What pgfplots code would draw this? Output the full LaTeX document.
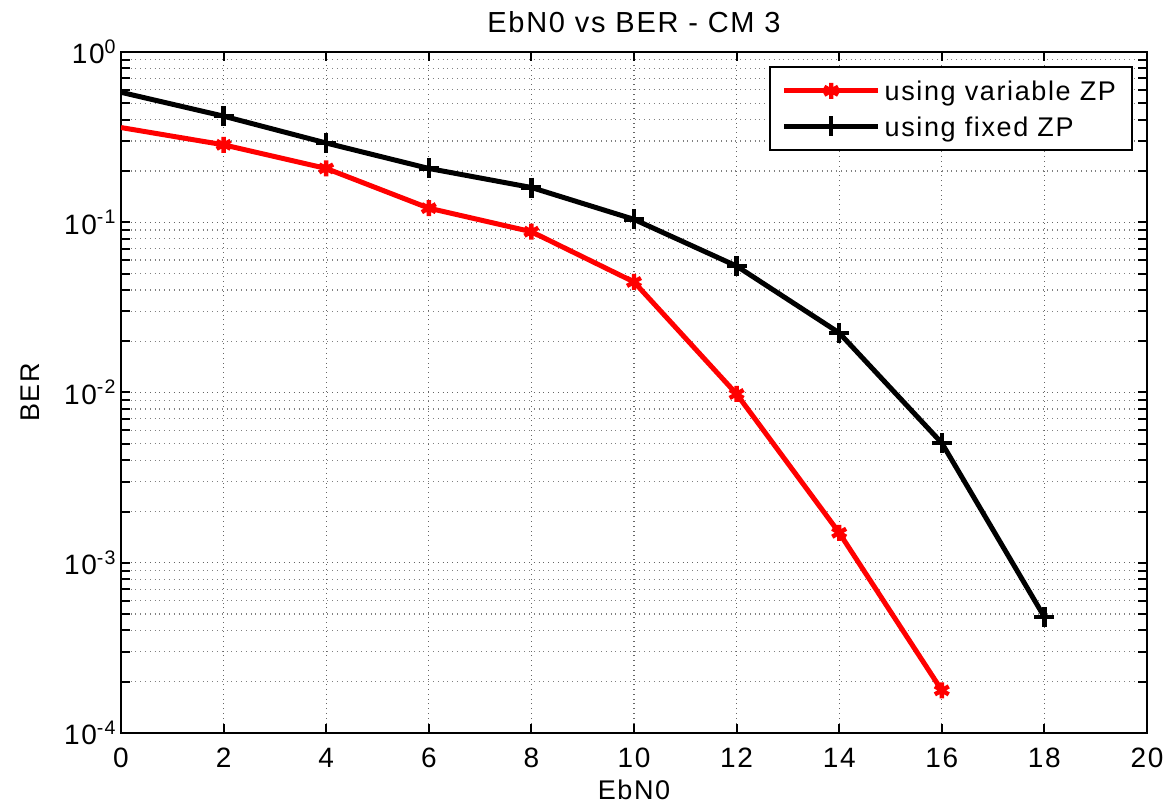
\documentclass[border=0pt]{standalone}
\usepackage{fontspec}
\setmainfont[LetterSpace=6]{Liberation Sans}
\usepackage{pgfplots}
\pgfplotsset{compat=1.18}

\begin{document}
\begin{tikzpicture}[font=\fontsize{13.5pt}{16pt}\selectfont]
\path[use as bounding box] (-60.5pt,-36.5pt) rectangle (526.5pt,366.5pt);
\begin{semilogyaxis}[
at={(0pt,0pt)},anchor=south west,
scale only axis,
width=513pt,height=340.5pt,
xmin=0,xmax=20,ymin=1e-4,ymax=1,
xtick={0,2,...,20},
ytick={1e-4,1e-3,1e-2,1e-1,1},
yticklabels={10\textsuperscript{-4},10\textsuperscript{-3},10\textsuperscript{-2},10\textsuperscript{-1},10\textsuperscript{0}},
minor ytick={2e-4,3e-4,4e-4,5e-4,6e-4,7e-4,8e-4,9e-4,
2e-3,3e-3,4e-3,5e-3,6e-3,7e-3,8e-3,9e-3,
2e-2,3e-2,4e-2,5e-2,6e-2,7e-2,8e-2,9e-2,
2e-1,3e-1,4e-1,5e-1,6e-1,7e-1,8e-1,9e-1},
/pgf/number format/assume math mode=true,
tick label style={font=\fontsize{14pt}{16pt}\selectfont},
yticklabel style={inner sep=2pt},
xticklabel style={yshift=-4pt},
tick align=inside,
major tick length=4.5pt,minor tick length=4.5pt,
tick style={black,line width=1pt},
axis line style={line width=1pt},
grid=both,
major grid style={black!60,dotted,line width=0.6pt},
minor grid style={gray,dotted,line width=0.6pt},
every axis title shift=0pt,
title={EbN0 vs BER - CM 3},
title style={at={(axis description cs:0.5,1.044)},anchor=center,
  font=\fontsize{14.5pt}{17pt}\selectfont},
xlabel={EbN0},
xlabel style={at={(axis description cs:0.5,-0.0837)},anchor=center,
  font=\fontsize{13.5pt}{16pt}\selectfont},
ylabel={BER},
ylabel style={at={(axis description cs:-0.0887,0.5)},anchor=center,
  font=\fontsize{13.5pt}{16pt}\selectfont},
legend style={at={(rel axis cs:1,1)},anchor=north east,xshift=-7pt,yshift=-7pt,
  draw=black,line width=1pt,fill=white,inner xsep=6pt,inner ysep=5pt,row sep=4pt,
  font=\fontsize{13.5pt}{16pt}\selectfont,
  nodes={inner sep=2pt,text depth=0pt}},
legend cell align=left,
legend image code/.code={\draw[#1,mark indices={2}] plot coordinates {(0pt,0pt) (23.5pt,0pt) (47pt,0pt)};},
]
\addplot[red,line width=2.5pt,mark=asterisk,mark size=4pt,mark indices={2,3,4,5,6,7,8,9},
  mark options={line width=2.2pt}] coordinates {
(0,0.36) (2,0.285) (4,0.207) (6,0.121) (8,0.088) (10,0.0446)
(12,0.0098) (14,0.0015) (16,0.000178)};
\addlegendentry{using variable ZP}
\addplot[black,line width=2.5pt,mark=+,mark size=5pt,mark indices={2,3,4,5,6,7,8,9,10},
  mark options={line width=2.2pt}] coordinates {
(0,0.58) (2,0.42) (4,0.292) (6,0.207) (8,0.16) (10,0.104)
(12,0.0553) (14,0.0224) (16,0.00505) (18,0.00048)};
\addlegendentry{using fixed ZP}
\end{semilogyaxis}
\end{tikzpicture}
\end{document}
